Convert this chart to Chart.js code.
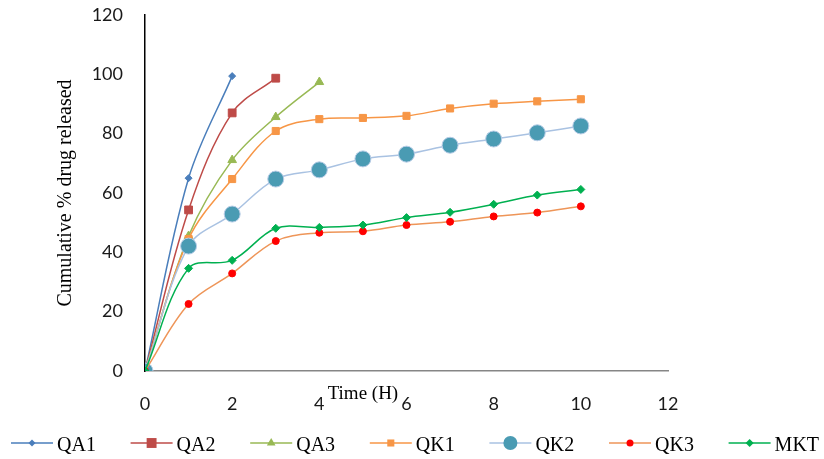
<!DOCTYPE html>
<html lang="en">
  <head>
    <meta charset="UTF-8" />
    <title>Cumulative drug release</title>
    <script src="https://cdn.jsdelivr.net/npm/chart.js@4"></script>
    <style>
      html, body { margin: 0; padding: 0; background: #fff; }
      .wrap { width: 824px; height: 459px; position: relative; }
    </style>
  </head>
  <body>
    <div class="wrap">
      <canvas id="myChart"></canvas>
    </div>
    <script>
      // time points (hours) and cumulative % released
      const hours = [0, 1, 2, 3, 4, 5, 6, 7, 8, 9, 10];
      const qa1 = [0, 65.0, 99.4];
      const qa2 = [0, 54.3, 87.0, 98.7];
      const qa3 = [0, 45.5, 71.1, 85.6, 97.4];
      const qk1 = [0, 44.5, 64.7, 80.9, 84.9, 85.3, 86.0, 88.5, 90.1, 90.9, 91.6];
      const qk2 = [0, 42.1, 52.9, 64.7, 67.8, 71.5, 73.1, 76.1, 78.2, 80.3, 82.6];
      const qk3 = [0, 22.6, 32.9, 43.8, 46.6, 47.1, 49.2, 50.3, 52.1, 53.4, 55.5];
      const mkt = [0, 34.6, 37.3, 48.1, 48.4, 49.2, 51.7, 53.5, 56.2, 59.3, 61.2];
      const xTicks = [0, 2, 4, 6, 8, 10, 12];
      const yTicks = [0, 20, 40, 60, 80, 100, 120];

      const points = (vals) => vals.map((v, i) => ({ x: hours[i], y: v }));

      const series = [
        { label: 'QA1', data: qa1, line: '#4A7EBB', fill: '#4A7EBB', style: 'rectRot', r: 3.5 },
        { label: 'QA2', data: qa2, line: '#BE4B48', fill: '#BE4B48', style: 'rect', r: 5.5 },
        { label: 'QA3', data: qa3, line: '#98B954', fill: '#98B954', style: 'triangle', r: 5 },
        { label: 'QK1', data: qk1, line: '#F79646', fill: '#F79646', style: 'rect', r: 5 },
        { label: 'QK2', data: qk2, line: '#A9C2E2', fill: '#4A9BB3', style: 'circle', r: 8 },
        { label: 'QK3', data: qk3, line: '#EE9558', fill: '#FF0000', style: 'circle', r: 3.5 },
        { label: 'MKT', data: mkt, line: '#00B050', fill: '#00B050', style: 'rectRot', r: 4 },
      ];

      const datasets = series.map((s, i) => ({
        label: s.label,
        data: points(s.data),
        borderColor: s.line,
        backgroundColor: s.fill,
        borderWidth: 1.5,
        pointStyle: s.style,
        pointRadius: s.r,
        pointBackgroundColor: s.fill,
        pointBorderColor: s.style === 'circle' && s.r > 5 ? '#B7CCE6' : s.fill,
        pointBorderWidth: 1,
        tension: 0.35,
        order: series.length - i,
      }));

      function marker(ctx, style, r, x, y) {
        ctx.beginPath();
        if (style === 'circle') {
          ctx.arc(x, y, r, 0, Math.PI * 2);
        } else if (style === 'rect') {
          const s = r * Math.SQRT1_2;
          ctx.rect(x - s, y - s, 2 * s, 2 * s);
        } else if (style === 'rectRot') {
          ctx.moveTo(x, y - r); ctx.lineTo(x + r, y); ctx.lineTo(x, y + r); ctx.lineTo(x - r, y);
        } else if (style === 'triangle') {
          ctx.moveTo(x, y - r);
          ctx.lineTo(x + r * 0.866, y + r * 0.5);
          ctx.lineTo(x - r * 0.866, y + r * 0.5);
        }
        ctx.closePath();
        ctx.fill();
      }

      // legend with line + marker and the oddly placed x-axis title
      const extras = {
        id: 'extras',
        afterDraw(chart) {
          const ctx = chart.ctx;
          const xs = chart.scales.x;
          ctx.save();
          ctx.fillStyle = '#000';
          ctx.font = '19px "Liberation Serif"';
          ctx.textAlign = 'center';
          ctx.textBaseline = 'alphabetic';
          ctx.fillText('Time (H)', xs.getPixelForValue(5), 399);

          ctx.font = '20px "Liberation Serif"';
          ctx.textAlign = 'left';
          series.forEach((s, i) => {
            const x0 = 11 + i * 119.6;
            const y = 443;
            ctx.strokeStyle = s.line;
            ctx.lineWidth = 1.5;
            ctx.beginPath();
            ctx.moveTo(x0, y);
            ctx.lineTo(x0 + 42, y);
            ctx.stroke();
            ctx.fillStyle = s.fill;
            marker(ctx, s.style, s.r > 5 ? 7 : s.r, x0 + 21, y);
            ctx.fillStyle = '#000';
            ctx.fillText(s.label, x0 + 46, 451);
          });
          ctx.restore();
        },
      };

      const config = {
        type: 'line',
        data: { datasets: datasets },
        options: {
          animation: { duration: 0 },
          responsive: true,
          maintainAspectRatio: false,
          layout: { padding: { top: 15, right: 156, bottom: 0, left: 0 } },
          plugins: {
            legend: { display: false },
            tooltip: { enabled: false },
          },
          scales: {
            x: {
              type: 'linear',
              min: 0,
              max: 12,
              afterFit: (scale) => {
                scale.height = 88;
                scale.paddingLeft = 0;
                scale.paddingRight = 0;
              },
              afterBuildTicks: (scale) => { scale.ticks = xTicks.map((v) => ({ value: v })); },
              grid: { display: false, drawTicks: false },
              border: { display: true, color: '#868686', width: 1.5 },
              ticks: { padding: 22, font: { family: 'Lato', size: 18 }, color: '#1a1a1a' },
            },
            y: {
              min: 0,
              max: 120,
              afterFit: (scale) => {
                scale.width = 145;
                scale.paddingTop = 0;
                scale.paddingBottom = 0;
              },
              afterBuildTicks: (scale) => { scale.ticks = yTicks.map((v) => ({ value: v })); },
              grid: { display: false, drawTicks: false },
              border: { display: true, color: '#000', width: 1.5 },
              ticks: { padding: 22, font: { family: 'Lato', size: 18 }, color: '#1a1a1a' },
              title: {
                display: true,
                text: 'Cumulative % drug released',
                font: { family: 'Liberation Serif', size: 20 },
                color: '#000',
                padding: { top: 54, bottom: 0 },
              },
            },
          },
        },
        plugins: [extras],
      };

      new Chart(document.getElementById('myChart'), config);
    </script>
  </body>
</html>
